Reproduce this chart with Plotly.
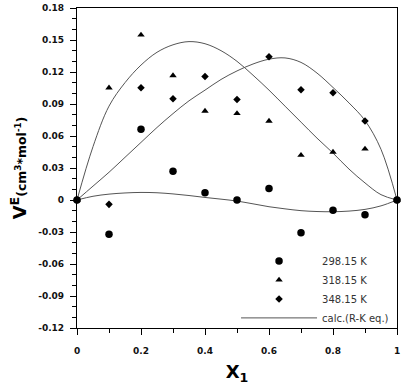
import plotly.graph_objects as go

# Experimental data (mole fraction x1 vs excess molar volume)
x_exp = [0.0, 0.1, 0.2, 0.3, 0.4, 0.5, 0.6, 0.7, 0.8, 0.9, 1.0]
ve_298 = [0.0, -0.0321, 0.0663, 0.0270, 0.0067, 0.0, 0.0108, -0.0306, -0.0097, -0.0138, 0.0]
ve_318 = [0.0, 0.1052, 0.1548, 0.1167, 0.0834, 0.0812, 0.0740, 0.0420, 0.0450, 0.0479, 0.0]
ve_348 = [0.0, -0.0041, 0.1052, 0.0950, 0.1158, 0.0943, 0.1342, 0.1034, 0.1006, 0.0740, 0.0]

# Calculated (Redlich-Kister) curves
x_calc = [0.0, 0.05, 0.1, 0.15, 0.2, 0.25, 0.3, 0.35, 0.4, 0.45, 0.5,
          0.55, 0.6, 0.65, 0.7, 0.75, 0.8, 0.85, 0.9, 0.95, 1.0]
calc_298 = [0.0, 0.0035, 0.0055, 0.0066, 0.0071, 0.0068, 0.0057, 0.0042, 0.0024, 0.0008, -0.0010,
            -0.0036, -0.0063, -0.0083, -0.0100, -0.0108, -0.0110, -0.0104, -0.0088, -0.0055, 0.0]
calc_318 = [0.0, 0.050, 0.088, 0.110, 0.1265, 0.1385, 0.1455, 0.1485, 0.1465, 0.1400, 0.1300,
            0.1170, 0.1030, 0.0880, 0.0730, 0.0580, 0.0440, 0.0290, 0.0160, 0.0050, 0.0]
calc_348 = [0.0, 0.013, 0.026, 0.040, 0.054, 0.068, 0.081, 0.093, 0.103, 0.113, 0.121,
            0.1275, 0.1320, 0.1332, 0.1290, 0.1190, 0.1055, 0.0910, 0.0745, 0.0475, 0.0]

x_tickvals = [0, 0.2, 0.4, 0.6, 0.8, 1.0]
x_ticktext = ["0", "0.2", "0.4", "0.6", "0.8", "1"]
y_tickvals = [-0.12, -0.09, -0.06, -0.03, 0, 0.03, 0.06, 0.09, 0.12, 0.15, 0.18]
y_ticktext = ["-0.12", "-0.09", "-0.06", "-0.03", "0", "0.03", "0.06", "0.09", "0.12", "0.15", "0.18"]

labels = ["298.15 K", "318.15 K", "348.15 K"]
calc_label = "calc.(R-K eq.)"

fig = go.Figure()

line_style = dict(color="#555555", width=1, shape="spline", smoothing=1.0)
for i, cy in enumerate([calc_298, calc_318, calc_348]):
    fig.add_trace(go.Scatter(
        x=x_calc, y=cy, mode="lines", line=line_style,
        name=calc_label, legendgroup="calc", showlegend=(i == 0),
        legendrank=4, cliponaxis=False, hoverinfo="skip"))

symbols = ["circle", "triangle-up", "diamond"]
sizes = [7.5, 6.5, 5.8]
for rank, (lab, ys, sym, sz) in enumerate(zip(labels, [ve_298, ve_318, ve_348], symbols, sizes), start=1):
    fig.add_trace(go.Scatter(
        x=x_exp, y=ys, mode="markers", name=lab, legendrank=rank,
        marker=dict(symbol=sym, size=sz, color="black", line=dict(width=0)),
        cliponaxis=False))

tickfont = dict(family="DejaVu Sans", size=9, color="#111111", weight="bold")

fig.update_layout(
    width=404, height=385,
    margin=dict(l=77, r=7, t=8, b=57),
    paper_bgcolor="white", plot_bgcolor="white",
    showlegend=True,
    legend=dict(
        x=0.497, xanchor="left", y=0.255, yanchor="top",
        bgcolor="rgba(0,0,0,0)", borderwidth=0,
        font=dict(family="DejaVu Sans", size=10, color="#333333"),
        itemwidth=76, tracegroupgap=0,
    ),
    xaxis=dict(
        range=[0, 1], tickvals=x_tickvals, ticktext=x_ticktext, automargin=False,
        showline=True, linecolor="black", linewidth=1.2, mirror=True,
        ticks="outside", ticklen=6, tickwidth=1, tickcolor="black",
        minor=dict(dtick=0.1, ticks="outside", ticklen=4, tickcolor="black", tickwidth=1),
        showgrid=False, zeroline=False, tickfont=tickfont, ticklabelstandoff=8,
        title=dict(text="X<sub>1</sub>", font=dict(family="DejaVu Sans", size=18, color="black", weight="bold"), standoff=14),
    ),
    yaxis=dict(
        range=[-0.12, 0.18], tickvals=y_tickvals, ticktext=y_ticktext, automargin=False,
        showline=True, linecolor="black", linewidth=1.2, mirror=True,
        ticks="outside", ticklen=6, tickwidth=1, tickcolor="black",
        minor=dict(dtick=0.01, ticks="outside", ticklen=4, tickcolor="black", tickwidth=1),
        showgrid=False, zeroline=False, tickfont=tickfont, ticklabelstandoff=4,
        title=dict(text="V<sup>E</sup><span style='font-size:12.5px'>(cm<sup>3</sup>*mol<sup>-1</sup>)</span>",
                   font=dict(family="DejaVu Sans", size=18, color="black", weight="bold"), standoff=6),
    ),
)

fig.write_html("out.html")
